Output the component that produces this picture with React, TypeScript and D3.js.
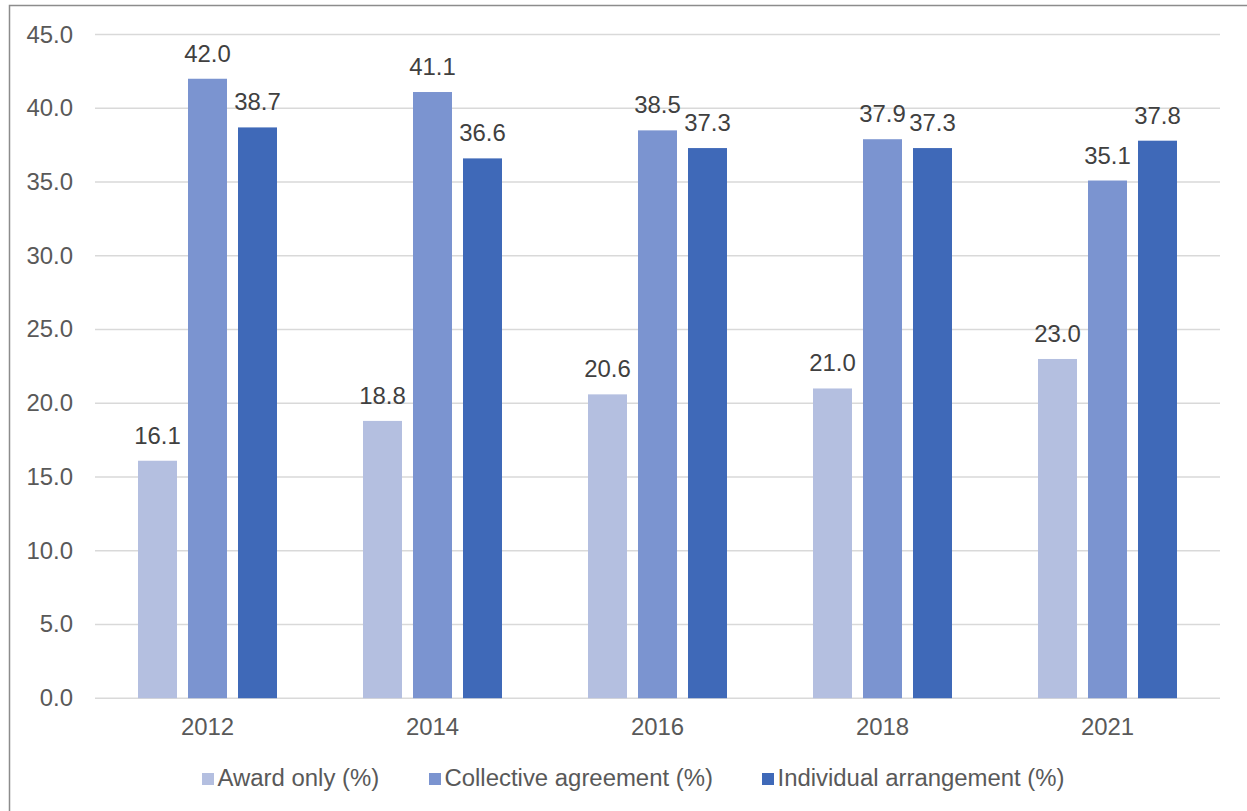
import React from 'react';
import * as d3 from 'd3';

const years = ['2012', '2014', '2016', '2018', '2021'];
const seriesNames = ['Award only (%)', 'Collective agreement (%)', 'Individual arrangement (%)'];
const awardOnly = [16.1, 18.8, 20.6, 21.0, 23.0];
const collective = [42.0, 41.1, 38.5, 37.9, 35.1];
const individual = [38.7, 36.6, 37.3, 37.3, 37.8];
const yTicks = [0, 5, 10, 15, 20, 25, 30, 35, 40, 45];
const colors = ['#B4BFE0', '#7B94D0', '#3F69B8'];

const seriesValues = [awardOnly, collective, individual];

const SX = 1.04;
const FS = 23;

function T(props: { x: number; y: number; anchor?: string; fill: string; children: React.ReactNode }) {
  return (
    <text
      transform={`translate(${props.x},${props.y}) scale(${SX},1)`}
      textAnchor={props.anchor || 'start'}
      fontSize={FS}
      fill={props.fill}
    >
      {props.children}
    </text>
  );
}

export default function App() {
  const W = 1247, H = 811;
  const left = 95, right = 1220, top = 34.5, bottom = 698.2;
  const x0 = d3.scaleBand<string>().domain(years).range([left, right]).padding(0);
  const x1 = d3.scaleBand<string>().domain(seriesNames).range([0, 139]).paddingInner(0.22).paddingOuter(0);
  const y = d3.scaleLinear().domain([0, 45]).range([bottom, top]);
  const font = 'Arial, "Liberation Sans", sans-serif';
  const legendX = [202, 429, 762];

  return (
    <svg width={W} height={H} style={{ position: 'absolute', left: 0, top: 0, background: '#fff' }} fontFamily={font}>
      <rect x={9.5} y={5.5} width={W + 20} height={H + 20} fill="#fff" stroke="#8C8C8C" strokeWidth={1.5} />
      {yTicks.map(t => (
        <g key={t}>
          <line x1={left} x2={right} y1={y(t)} y2={y(t)} stroke="#D9D9D9" strokeWidth={1.5} />
          <T x={73} y={y(t) + 8} anchor="end" fill="#595959">{t.toFixed(1)}</T>
        </g>
      ))}
      {years.map((yr, gi) => {
        const cx = (x0(yr) as number) + x0.bandwidth() / 2;
        const off = cx - 69.5;
        return (
          <g key={yr}>
            {seriesNames.map((s, si) => {
              const v = seriesValues[si][gi];
              const bx = off + (x1(s) as number);
              return (
                <g key={s}>
                  <rect x={bx} y={y(v)} width={x1.bandwidth()} height={y(0) - y(v)} fill={colors[si]} />
                  <T x={bx + x1.bandwidth() / 2} y={y(v) - 17} anchor="middle" fill="#404040">{v.toFixed(1)}</T>
                </g>
              );
            })}
            <T x={cx} y={735} anchor="middle" fill="#595959">{yr}</T>
          </g>
        );
      })}
      {seriesNames.map((s, si) => (
        <g key={s}>
          <rect x={legendX[si]} y={773} width={12} height={12} fill={colors[si]} />
          <T x={legendX[si] + 15.5} y={785.5} fill="#595959">{s}</T>
        </g>
      ))}
    </svg>
  );
}
